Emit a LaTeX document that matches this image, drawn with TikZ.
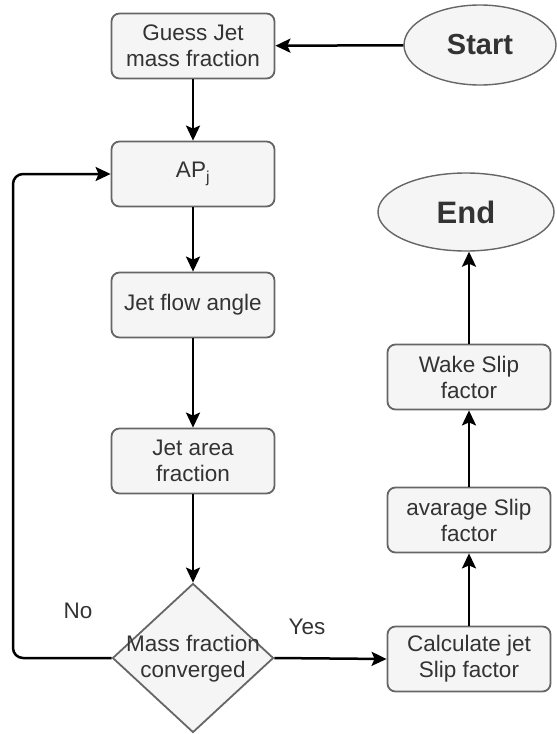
\documentclass[tikz,border=0pt]{standalone}
\usepackage{fontspec}
\setmainfont{Liberation Sans}
\usetikzlibrary{shapes.geometric,arrows.meta}
\definecolor{boxfill}{HTML}{F5F5F5}
\definecolor{boxline}{HTML}{666666}
\definecolor{boxtext}{HTML}{333333}
\tikzset{
  procbox/.style={draw=boxline, line width=1.8pt, fill=boxfill, rounded corners=8pt,
    minimum width=163pt, minimum height=65pt, align=center, inner sep=0pt,
    text=boxtext, font=\fontsize{22.5}{26}\selectfont},
  terminal/.style={ellipse, draw=boxline, line width=1.4pt, fill=boxfill,
    inner sep=0pt, text=boxtext},
  decision/.style={diamond, draw=boxline, line width=1.8pt, fill=boxfill,
    minimum width=161pt, minimum height=149pt, inner sep=0pt},
  plaintext/.style={text=boxtext, font=\fontsize{22.5}{26}\selectfont, align=center, inner sep=0pt},
  flow/.style={draw=black, line width=2.5pt, -{Stealth[length=15pt,width=14pt,inset=3pt]}, rounded corners=10pt},
}
\begin{document}
\begin{tikzpicture}[x=1pt, y=-1pt]
  \useasboundingbox (0,0) rectangle (557,734);

  % left column
  \node[procbox] (guess) at (193,46) {Guess Jet\\mass fraction};
  \node[procbox] (apj)   at (193,174) {AP\textsubscript{j}};
  \node[procbox] (angle) at (193,305) {Jet flow angle};
  \node[procbox] (area)  at (193,461) {Jet area\\fraction};
  \node[decision] (conv) at (193,658) {};
  \node[plaintext] (convtext) at (193,659) {Mass fraction\\converged};

  % right column
  \node[procbox] (calc) at (469,659) {Calculate jet\\Slip factor};
  \node[procbox] (avg)  at (469,520) {avarage Slip\\factor};
  \node[procbox] (wake) at (469,377) {Wake Slip\\factor};

  % terminals
  \node[terminal, minimum width=152pt, minimum height=80pt,
        font=\fontsize{29}{32}\selectfont\bfseries] (start) at (480,45) {Start};
  \node[terminal, minimum width=176pt, minimum height=78pt,
        font=\fontsize{31}{34}\selectfont\bfseries] (end) at (466,212) {End};

  % connectors
  \draw[flow] (start) -- (guess);
  \draw[flow] (guess) -- (apj);
  \draw[flow] (apj) -- (angle);
  \draw[flow] (angle) -- (area);
  \draw[flow] (area) -- (conv.north);
  \draw[flow] (conv.west) -- (13,658) -- (13,174) -- (apj.west);
  \draw[flow] (conv.east) -- (calc.west);
  \draw[flow] (calc) -- (avg);
  \draw[flow] (avg) -- (wake);
  \draw[flow] (wake.north) -- (wake.north |- end.south);

  % branch labels
  \node[plaintext] (nolabel)  at (78,611) {No};
  \node[plaintext] (yeslabel) at (307,627) {Yes};
\end{tikzpicture}
\end{document}
